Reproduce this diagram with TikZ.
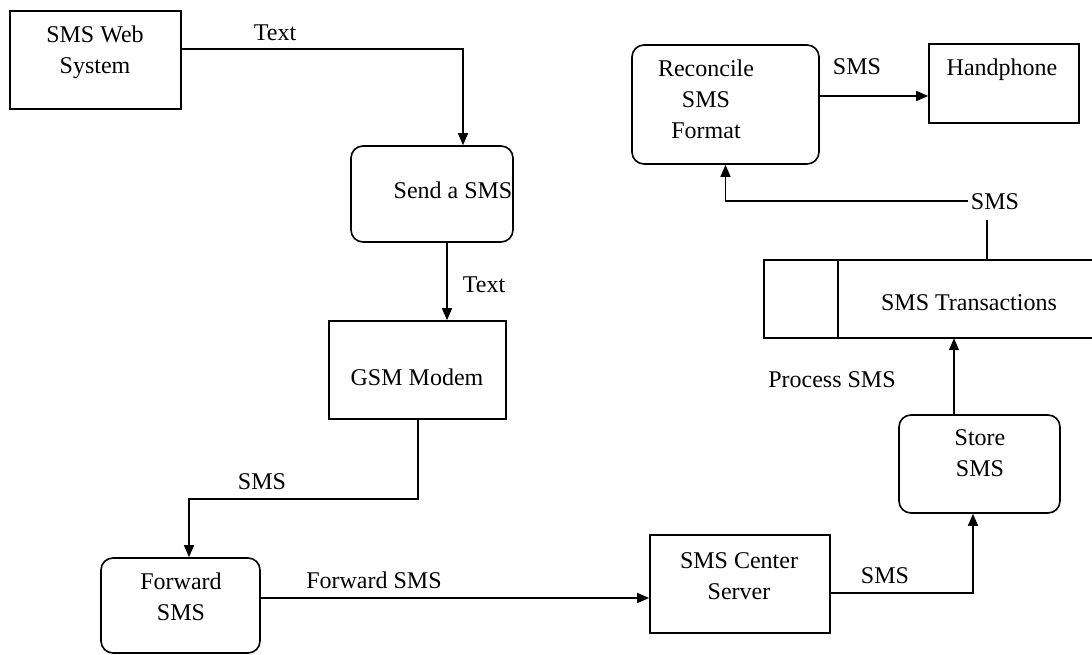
\documentclass[tikz,border=0pt]{standalone}
\usepackage{fontspec}
\setmainfont{Liberation Serif}
\usetikzlibrary{arrows.meta}
\begin{document}
\begin{tikzpicture}[x=1pt,y=-1pt,
  txt/.style={inner sep=0pt,align=center,font=\fontsize{24}{31}\selectfont},
  boxsq/.style={draw,line width=1.6pt,inner sep=0pt},
  boxrd/.style={draw,line width=1.6pt,inner sep=0pt,rounded corners=12pt},
  conn/.style={line width=1.4pt},
  arr/.style={conn,-{Triangle[length=12pt,width=10pt]}}]
\useasboundingbox (0,0) rectangle (1092,655);
% boxes
\node[boxsq,minimum width=171pt,minimum height=98pt] (web) at (95.5,60) {};
\node[boxrd,minimum width=162pt,minimum height=96pt] (send) at (432,194) {};
\node[boxsq,minimum width=177pt,minimum height=98pt] (gsm) at (417.5,370) {};
\node[boxrd,minimum width=159pt,minimum height=95pt] (fwd) at (180.5,605.5) {};
\node[boxsq,minimum width=180pt,minimum height=98pt] (center) at (740,584) {};
\node[boxrd,minimum width=161pt,minimum height=98pt] (store) at (979.5,464) {};
\node[boxrd,minimum width=187pt,minimum height=119pt] (rec) at (725.5,104.5) {};
\node[boxsq,minimum width=150pt,minimum height=79pt] (hand) at (1004,83.5) {};
\node[inner sep=0pt,minimum width=328pt,minimum height=78pt] (trans) at (928,299) {};
\draw[line width=1.6pt] (trans.north east) -- (trans.north west) -- (trans.south west) -- (trans.south east);
\coordinate (dv) at (838,0);
\draw[line width=1.6pt] (trans.north -| dv) -- (trans.south -| dv);
% texts in boxes
\node[txt] (tweb) at (95,52) {SMS Web\\System};
\node[txt] (tsend) at (453,190) {Send a SMS};
\node[txt] (tgsm) at (417,377) {GSM Modem};
\node[txt] (tfwd) at (181,597) {Forward\\SMS};
\node[txt] (tcenter) at (739,576) {SMS Center\\Server};
\node[txt] (tstore) at (980,453) {Store\\SMS};
\node[txt] (trec) at (706,99) {Reconcile\\SMS\\Format};
\node[txt] (thand) at (1002,70) {Handphone};
\node[txt] (ttrans) at (969,303) {SMS Transactions};
% labels
\node[txt] (l1) at (275,33) {Text};
\node[txt] (l2) at (484,285) {Text};
\node[txt] (l3) at (262,482) {SMS};
\node[txt] (l4) at (374,580) {Forward SMS};
\node[txt] (l5) at (885,576) {SMS};
\node[txt] (l6) at (832,380) {Process SMS};
\node[txt] (l7) at (995,202) {SMS};
\node[txt] (l8) at (857,67) {SMS};
% connectors
\coordinate (k1) at (463,49);
\draw[arr] (web.east |- k1) -| (send.north -| k1);
\coordinate (k2) at (447,0);
\draw[arr] (send.south -| k2) -- (gsm.north -| k2);
\coordinate (k3) at (189,499);
\coordinate (k3b) at (418,0);
\draw[arr] (gsm.south -| k3b) |- (k3) -- (fwd.north -| k3);
\coordinate (k4) at (0,598);
\draw[arr] (fwd.east |- k4) -- (center.west |- k4);
\coordinate (k5) at (973,593);
\draw[arr] (center.east |- k5) -| (store.south -| k5);
\coordinate (k6) at (954,0);
\draw[arr] (store.north -| k6) -- (trans.south -| k6);
\coordinate (k7) at (987,220);
\draw[conn] (trans.north -| k7) -- (k7);
\coordinate (k9) at (968,201);
\draw[arr] (k9) -| (rec.south);
\coordinate (k8) at (0,96);
\draw[arr] (rec.east |- k8) -- (hand.west |- k8);
\end{tikzpicture}
\end{document}
